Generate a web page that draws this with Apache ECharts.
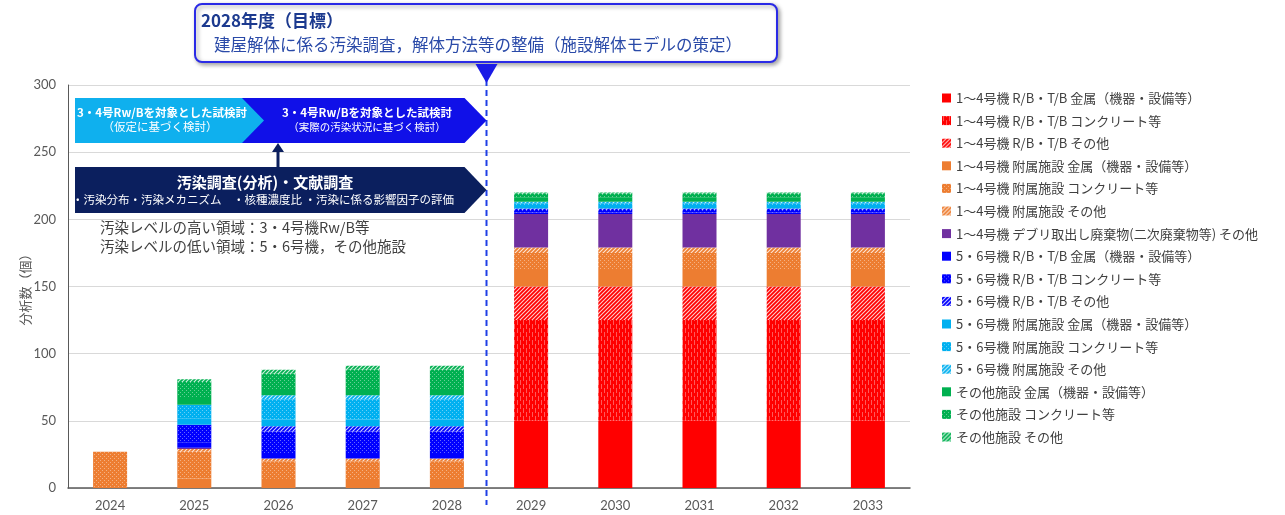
<!DOCTYPE html>
<html><head><meta charset="utf-8">
<script src="https://cdn.jsdelivr.net/npm/echarts@6/dist/echarts.min.js"></script>
<style>html,body{margin:0;padding:0;background:#fff;}#c{width:1285px;height:515px;}</style>
</head><body><div id="c"></div>
<script>
// ---- data ----
const years = ['2024','2025','2026','2027','2028','2029','2030','2031','2032','2033'];
const yTicks = [0,50,100,150,200,250,300];
const seriesNames = [
  '1～4号機 R/B・T/B 金属（機器・設備等）',
  '1～4号機 R/B・T/B コンクリート等',
  '1～4号機 R/B・T/B その他',
  '1～4号機 附属施設 金属（機器・設備等）',
  '1～4号機 附属施設 コンクリート等',
  '1～4号機 附属施設 その他',
  '1～4号機 デブリ取出し廃棄物(二次廃棄物等) その他',
  '5・6号機 R/B・T/B 金属（機器・設備等）',
  '5・6号機 R/B・T/B コンクリート等',
  '5・6号機 R/B・T/B その他',
  '5・6号機 附属施設 金属（機器・設備等）',
  '5・6号機 附属施設 コンクリート等',
  '5・6号機 附属施設 その他',
  'その他施設 金属（機器・設備等）',
  'その他施設 コンクリート等',
  'その他施設 その他'
];
const u14RbMetal    = [0,0,0,0,0,50,50,50,50,50];
const u14RbConcrete = [0,0,0,0,0,75,75,75,75,75];
const u14RbOther    = [0,0,0,0,0,25,25,25,25,25];
const u14AuxMetal    = [0,7,6,6,6,13,13,13,13,13];
const u14AuxConcrete = [27,20,14,14,14,12,12,12,12,12];
const u14AuxOther    = [0,2,2,2,2,4,4,4,4,4];
const u14Debris      = [0,1,0,0,0,25,25,25,25,25];
const u56RbMetal    = [0,4,4,4,4,1,1,1,1,1];
const u56RbConcrete = [0,13,16,16,16,2,2,2,2,2];
const u56RbOther    = [0,0,4,4,4,1,1,1,1,1];
const u56AuxMetal    = [0,5,5,5,5,2,2,2,2,2];
const u56AuxConcrete = [0,10,15,15,15,2,2,2,2,2];
const u56AuxOther    = [0,0,3,3,3,1,1,1,1,1];
const othMetal    = [0,5,4,4,4,3,3,3,3,3];
const othConcrete = [0,12,12,15,15,3,3,3,3,3];
const othOther    = [0,2,3,3,3,1,1,1,1,1];

const seriesData = [u14RbMetal,u14RbConcrete,u14RbOther,u14AuxMetal,u14AuxConcrete,u14AuxOther,u14Debris,
  u56RbMetal,u56RbConcrete,u56RbOther,u56AuxMetal,u56AuxConcrete,u56AuxOther,othMetal,othConcrete,othOther];

// ---- styles ----
const RED='#ff0000', ORANGE='#ed7d31', PURPLE='#7030a0', BLUE='#0000ff', LBLUE='#00b0f0', GREEN='#00b050';
const styleDefs = [
  [RED,'solid'],[RED,'vdash'],[RED,'hatch'],
  [ORANGE,'solid'],[ORANGE,'dots'],[ORANGE,'hatch'],
  [PURPLE,'solid'],
  [BLUE,'solid'],[BLUE,'dots'],[BLUE,'hatch'],
  [LBLUE,'solid'],[LBLUE,'dots'],[LBLUE,'hatch'],
  [GREEN,'solid'],[GREEN,'dots'],[GREEN,'hatch']
];
function makeFill(color, kind){
  if(kind==='solid') return color;
  const c=document.createElement('canvas');
  const g=c.getContext('2d');
  if(kind==='dots'){
    c.width=4;c.height=4;
    g.fillStyle=color;g.fillRect(0,0,4,4);
    g.fillStyle='rgba(255,255,255,0.4)';
    g.fillRect(0,0,1,1);g.fillRect(2,2,1,1);
  } else if(kind==='vdash'){
    c.width=6;c.height=8;
    g.fillStyle=color;g.fillRect(0,0,6,8);
    g.fillStyle='rgba(255,255,255,0.35)';
    g.fillRect(1,0,1,5);g.fillRect(4,4,1,4);g.fillRect(4,0,1,1);
  } else {
    c.width=4;c.height=4;
    g.fillStyle=color;g.fillRect(0,0,4,4);
    g.strokeStyle='rgba(255,255,255,0.8)';g.lineWidth=1.1;
    g.beginPath();
    g.moveTo(-1,5);g.lineTo(5,-1);
    g.moveTo(-3,3);g.lineTo(3,-3);
    g.moveTo(1,7);g.lineTo(7,1);
    g.stroke();
  }
  return {image:c, repeat:'repeat'};
}

const FONT='"Noto Sans CJK JP","Noto Sans",sans-serif';
const chart = echarts.init(document.getElementById('c'), null, {renderer:'canvas'});

const series = seriesNames.map((n,i)=>({
  name:n, type:'bar', stack:'total', barWidth:34,
  data:seriesData[i],
  itemStyle:{color:makeFill(styleDefs[i][0],styleDefs[i][1])},
  emphasis:{disabled:true}
}));

chart.setOption({
  animation:false,
  backgroundColor:'#fff',
  grid:{left:68,right:375,top:85,bottom:27},
  xAxis:{type:'category',data:years,
    axisLine:{lineStyle:{color:'#595959',width:1.5}},
    axisTick:{show:false},
    axisLabel:{color:'#595959',fontSize:13,margin:11,fontFamily:'Lato, sans-serif'}},
  yAxis:{type:'value',min:yTicks[0],max:yTicks[yTicks.length-1],interval:50,
    name:'分析数（個）',nameLocation:'middle',nameRotate:90,nameGap:36,nameMoveOverlap:false,
    nameTextStyle:{color:'#595959',fontSize:13,fontFamily:FONT},
    axisLine:{show:true,lineStyle:{color:'#595959'}},
    axisTick:{show:false},
    axisLabel:{color:'#595959',fontSize:13,margin:12,fontFamily:'Lato, sans-serif'},
    splitLine:{lineStyle:{color:'#d9d9d9'}}},
  legend:{orient:'vertical',left:937,top:86,icon:'rect',itemWidth:9,itemHeight:9,itemGap:8.6,
    textStyle:{color:'#404040',fontSize:13,lineHeight:14,fontFamily:FONT},
    data:seriesNames},
  series:series
});

// ---- annotations (positioned relative to the axis) ----
const p28 = chart.convertToPixel({xAxisIndex:0},'2028');
const p29 = chart.convertToPixel({xAxisIndex:0},'2029');
const X = Math.round(p28 + 0.46*(p29-p28)) + 0.5;
const NAVY='#0b1f5e';
const TXT={fontFamily:FONT};
chart.setOption({graphic:[
  {type:'line',shape:{x1:X,y1:80,x2:X,y2:505},style:{stroke:'#1f3fe6',lineWidth:2,lineDash:[6,4]},z:100},
  {type:'polygon',shape:{points:[[230,98],[X-22,98],[X,120.5],[X-22,143],[230,143]]},style:{fill:'#1010e8'},z:101},
  {type:'polygon',shape:{points:[[75,98],[242,98],[264,120.5],[242,143],[75,143]]},style:{fill:'#0fb0ee'},z:102},
  {type:'polygon',shape:{points:[[75,167],[X-22,167],[X,190],[X-22,213],[75,213]]},style:{fill:NAVY},z:101},
  {type:'line',shape:{x1:278,y1:167,x2:278,y2:150},style:{stroke:NAVY,lineWidth:3},z:103},
  {type:'polygon',shape:{points:[[272,152],[284,152],[278,143]]},style:{fill:NAVY},z:103},
  {type:'text',z:110,style:Object.assign({text:'3・4号Rw/Bを対象とした試検討',x:162,y:113,fill:'#fff',fontSize:11.5,fontWeight:'bold',align:'center',verticalAlign:'middle'},TXT)},
  {type:'text',z:110,style:Object.assign({text:'（仮定に基づく検討）',x:160,y:127,fill:'#fff',fontSize:11.5,align:'center',verticalAlign:'middle'},TXT)},
  {type:'text',z:110,style:Object.assign({text:'3・4号Rw/Bを対象とした試検討',x:367,y:113,fill:'#fff',fontSize:11.5,fontWeight:'bold',align:'center',verticalAlign:'middle'},TXT)},
  {type:'text',z:110,style:Object.assign({text:'（実際の汚染状況に基づく検討）',x:367,y:127,fill:'#fff',fontSize:10.5,align:'center',verticalAlign:'middle'},TXT)},
  {type:'text',z:110,style:Object.assign({text:'汚染調査(分析)・文献調査',x:265,y:182,fill:'#fff',fontSize:15,fontWeight:'bold',align:'center',verticalAlign:'middle'},TXT)},
  {type:'text',z:110,style:Object.assign({text:'・汚染分布・汚染メカニズム　・核種濃度比 ・汚染に係る影響因子の評価',x:72,y:200,fill:'#fff',fontSize:11.5,align:'left',verticalAlign:'middle'},TXT)},
  {type:'text',z:110,style:Object.assign({text:'汚染レベルの高い領域：3・4号機Rw/B等',x:100,y:227,fill:'#404040',fontSize:14.5,align:'left',verticalAlign:'middle'},TXT)},
  {type:'text',z:110,style:Object.assign({text:'汚染レベルの低い領域：5・6号機，その他施設',x:100,y:246,fill:'#404040',fontSize:14.5,align:'left',verticalAlign:'middle'},TXT)},
  {type:'rect',shape:{x:195,y:4,width:582,height:58,r:7},style:{fill:'#fff',stroke:'#2a2ae6',lineWidth:2,shadowBlur:4,shadowOffsetX:2,shadowOffsetY:2,shadowColor:'rgba(0,0,0,0.35)'},z:120},
  {type:'polygon',shape:{points:[[X-11,64],[X+11,64],[X,83]]},style:{fill:'#1a1ae6'},z:120},
  {type:'text',z:121,style:Object.assign({text:'2028年度（目標）',x:201,y:21,fill:'#1c3a8f',fontSize:17,fontWeight:'bold',align:'left',verticalAlign:'middle'},TXT)},
  {type:'text',z:121,style:Object.assign({text:'建屋解体に係る汚染調査，解体方法等の整備（施設解体モデルの策定）',x:214,y:45,fill:'#2a4aa8',fontSize:16.5,align:'left',verticalAlign:'middle'},TXT)}
]});
</script></body></html>
